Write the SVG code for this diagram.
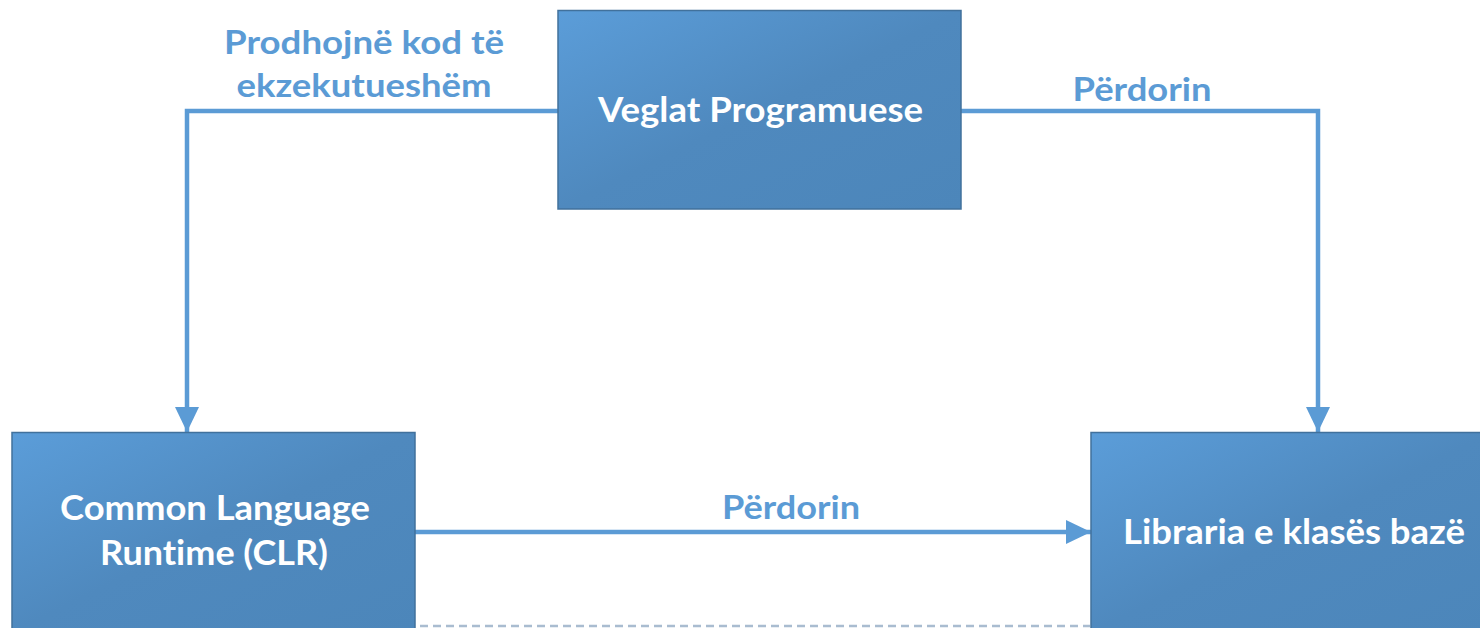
<svg xmlns="http://www.w3.org/2000/svg" width="1480" height="628" viewBox="0 0 1480 628">
<defs>
<linearGradient id="g" x1="0" y1="0" x2="1" y2="1">
<stop offset="0" stop-color="#5B9DD9"/>
<stop offset="0.5" stop-color="#4F89BE"/>
<stop offset="1" stop-color="#4C86BA"/>
</linearGradient>
<marker id="ah" markerUnits="userSpaceOnUse" markerWidth="26" markerHeight="26" refX="25" refY="12" orient="auto" viewBox="0 0 26 24">
<path d="M0,0 L25,12 L0,24 Z" fill="#5B9BD5"/>
</marker>
<style>
.box{fill:url(#g);stroke:#41719C;stroke-width:1.5}
.bt{font-family:Lato,"Open Sans",sans-serif;font-weight:bold;font-size:34px;fill:#FFFFFF;text-anchor:middle;font-variant-ligatures:none}
.lb{font-family:Lato,"Open Sans",sans-serif;font-weight:bold;font-size:32px;fill:#5B9BD5;text-anchor:middle;font-variant-ligatures:none}
.cn{fill:none;stroke:#5B9BD5;stroke-width:4.5;marker-end:url(#ah)}
</style>
</defs>
<g id="connectors">
<path class="cn" d="M558,111 H187 V432"/>
<path class="cn" d="M961,111 H1318 V432"/>
<path class="cn" d="M415,532 H1091"/>
<line x1="407" y1="626" x2="1090" y2="626" stroke="#A9BCD0" stroke-width="2.5" stroke-dasharray="8,5"/>
</g>
<g id="label-prodhojne">
<text class="lb" x="364" y="54" textLength="280" lengthAdjust="spacingAndGlyphs">Prodhojnë kod të</text>
<text class="lb" x="364" y="97" textLength="255" lengthAdjust="spacingAndGlyphs">ekzekutueshëm</text>
</g>
<g id="label-perdorin-1">
<text class="lb" x="1142" y="101" textLength="139" lengthAdjust="spacingAndGlyphs">Përdorin</text>
</g>
<g id="label-perdorin-2">
<text class="lb" x="791" y="519" textLength="138" lengthAdjust="spacingAndGlyphs">Përdorin</text>
</g>
<g id="node-veglat">
<rect class="box" x="558" y="10.5" width="403" height="198.5"/>
<text class="bt" x="760.5" y="122" textLength="325" lengthAdjust="spacingAndGlyphs">Veglat Programuese</text>
</g>
<g id="node-clr">
<rect class="box" x="12" y="432.5" width="403" height="200"/>
<text class="bt" x="215" y="520" textLength="310" lengthAdjust="spacingAndGlyphs">Common Language</text>
<text class="bt" x="214" y="565" textLength="228" lengthAdjust="spacingAndGlyphs">Runtime (CLR)</text>
</g>
<g id="node-libraria">
<rect class="box" x="1091" y="432.5" width="400" height="200"/>
<text class="bt" x="1294" y="544" textLength="342" lengthAdjust="spacingAndGlyphs">Libraria e klasës bazë</text>
</g>
</svg>
